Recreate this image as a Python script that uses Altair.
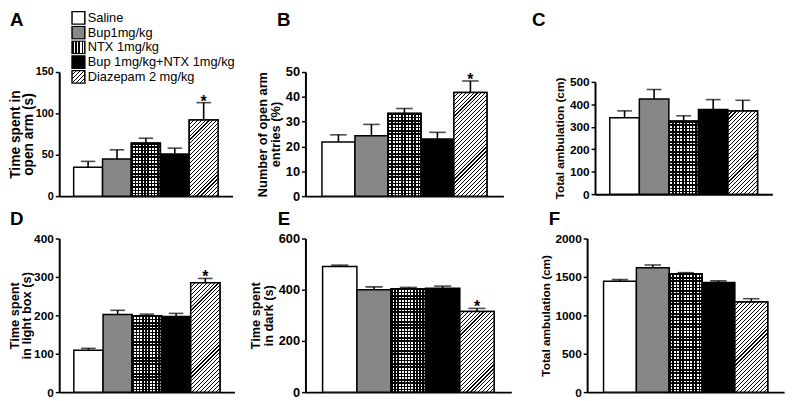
import altair as alt
import pandas as pd

FONT = "Liberation Sans"

# ---- data ----
cats = ["Saline", "Bup1mg/kg", "NTX 1mg/kg", "Bup 1mg/kg+NTX 1mg/kg", "Diazepam 2 mg/kg"]

a_mean = [35, 45, 64, 51, 92]
a_sem = [7, 11, 6, 7, 21]
a_star = ["", "", "", "", "*"]

b_mean = [21.8, 24.3, 33.3, 23.0, 41.8]
b_sem = [2.9, 4.6, 2.0, 2.7, 4.6]
b_star = ["", "", "", "", "*"]

c_mean = [340, 424, 325, 377, 370]
c_sem = [31, 42, 24, 44, 48]
c_star = ["", "", "", "", ""]

d_mean = [109, 202, 199, 197, 285]
d_sem = [5, 11, 4, 8, 11]
d_star = ["", "", "", "", "*"]

e_mean = [491, 400, 404, 406, 315]
e_sem = [5, 11, 5, 8, 12]
e_star = ["", "", "", "", "*"]

f_mean = [1443, 1620, 1542, 1426, 1173]
f_sem = [22, 35, 13, 22, 43]
f_star = ["", "", "", "", ""]

a_title = ["Time spent in", "open arm (s)"]
b_title = ["Number of open arm", "entries (%)"]
c_title = "Total ambulation (cm)"
d_title = ["Time spent", "in light box (s)"]
e_title = ["Time spent", "in dark (s)"]
f_title = "Total ambulation (cm)"


# ---- pattern helpers (styles) ----
def stripe_stops(total, period, lw, dark, light):
    stops = []
    k = 0
    while k * period < total - 1e-9:
        a = k * period / total
        b = min((k * period + lw) / total, 1.0)
        c = min((k + 1) * period / total, 1.0)
        stops += [(a, dark), (b, dark), (b, light), (c, light)]
        k += 1
    return stops


def grad(x2, y2, stops):
    return {"gradient": "linear", "x1": 0, "y1": 0, "x2": x2, "y2": y2,
            "stops": [{"offset": round(o, 5), "color": c} for o, c in stops]}


def grad_expr(g):
    st = ",".join("{offset:%s,color:'%s'}" % (s["offset"], s["color"]) for s in g["stops"])
    return "{gradient:'linear',x1:%s,y1:%s,x2:%s,y2:%s,stops:[%s]}" % (
        g["x1"], g["y1"], g["x2"], g["y2"], st)


legend_ntx = grad(1, 0, stripe_stops(13, 13 / 4, 1.7, "black", "white"))
legend_dz = grad(1, 1, stripe_stops(26, 4, 1.2, "black", "white"))

fill_scale = alt.Scale(domain=cats, range=["white", "#878787", {"expr": grad_expr(legend_ntx)},
                                           "black", {"expr": grad_expr(legend_dz)}])

legend_spec = alt.Legend(title=None, orient="none", legendX=12, legendY=-62, direction="vertical",
                         symbolType="square", symbolSize=169, symbolStrokeColor="black",
                         symbolStrokeWidth=1.5, labelFont=FONT, labelFontSize=13,
                         labelColor="black", labelOffset=2, labelLimit=300, rowPadding=1,
                         clipHeight=14, padding=0)


def panel(letter, mean, sem, star, ymax, ystep, title, W, xr, H, yr, tfs, lfs, tlh, tp,
          ldx, loff, yoff=0):
    n = len(cats)
    df = pd.DataFrame({"cat": cats, "mean": mean, "sem": sem, "star": star})
    df["top"] = df["mean"] + df["sem"]
    step = (xr[1] - xr[0]) / (n + 1)
    hr = yr[0] - yr[1]
    xs = alt.Scale(type="band", domain=cats, range=xr, paddingInner=0, paddingOuter=0.5)
    ys = alt.Scale(domain=[0, ymax], range=yr, nice=False, zero=True)
    yaxis = alt.Axis(values=list(range(0, ymax + 1, ystep)), title=title, grid=False,
                     format="d",
                     domainColor="black", domainWidth=2, tickColor="black", tickWidth=1.5,
                     tickSize=4, labelFont=FONT, labelFontSize=lfs, labelFontWeight="bold",
                     labelColor="black", labelPadding=2, labelFlush=False, labelOverlap=False,
                     titleFont=FONT, titleFontSize=tfs, titleFontWeight="bold",
                     titleColor="black", titlePadding=tp, titleLineHeight=tlh, offset=yoff)
    xaxis = alt.Axis(title=None, labels=False, ticks=False, domainColor="black",
                     domainWidth=2, grid=False)
    X = alt.X("cat:N", scale=xs, axis=xaxis, sort=cats)
    Ym = alt.Y("mean:Q", scale=ys, axis=yaxis)
    Yt = alt.Y("top:Q", scale=ys, axis=yaxis)
    base = alt.Chart(df)

    bars = base.mark_bar(stroke="black", strokeWidth=1.5).encode(
        x=X, y=Ym, fill=alt.Fill("cat:N", scale=fill_scale, legend=legend_spec))

    # NTX cross-hatch overlay
    h2 = mean[2] / ymax * hr
    pv = step / max(1, round(step / 3.3))
    ph = h2 / max(1, round(h2 / 3.3))
    vg = grad(1, 0, stripe_stops(step, pv, 0.47 * pv, "black", "white"))
    hg = grad(0, 1, stripe_stops(h2, ph, 0.47 * ph, "black", "rgba(0,0,0,0)"))
    ntx1 = base.transform_filter(alt.datum.cat == cats[2]).mark_bar(
        fill=vg, stroke="black", strokeWidth=1.5).encode(x=X, y=Ym)
    ntx2 = base.transform_filter(alt.datum.cat == cats[2]).mark_bar(
        fill=hg, stroke="black", strokeWidth=1.5).encode(x=X, y=Ym)

    # Diazepam diagonal hatch overlay
    h4 = mean[4] / ymax * hr
    w = step
    L = (w * w + h4 * h4) / (w + h4)
    dg = grad(w / L, h4 / L, stripe_stops(w + h4, 4, 1.1, "black", "white"))
    dz = base.transform_filter(alt.datum.cat == cats[4]).mark_bar(
        fill=dg, stroke="black", strokeWidth=1.5).encode(x=X, y=Ym)

    rule = base.mark_rule(color="black", strokeWidth=1.6).encode(x=X, y=Ym, y2="top:Q")
    cap = base.mark_tick(color="black", thickness=1.6, size=step * 0.5).encode(x=X, y=Yt)
    stars = base.transform_filter("datum.star != ''").mark_text(
        font=FONT, fontSize=16, fontWeight="bold", color="black", baseline="alphabetic",
        dy=4).encode(x=X, y=Yt, text="star:N")

    return alt.layer(bars, ntx1, ntx2, dz, rule, cap, stars).properties(
        width=W, height=H,
        title=alt.TitleParams(text=letter, anchor="start", frame="group", fontSize=19,
                              font=FONT, fontWeight="bold", color="black", dx=ldx,
                              offset=loff))


A = panel("A", a_mean, a_sem, a_star, 150, 50, a_title, 176, [0, 176], 126, [126, 0], 14, 11, 12.5, 0, -50, 37)
B = panel("B", b_mean, b_sem, b_star, 50, 10, b_title, 222, [0, 201], 126, [126, 0], 13, 13, 13, 3, -29, 37)
C = panel("C", c_mean, c_sem, c_star, 500, 100, c_title, 180, [0, 180], 124, [124, 10], 12, 12, 12, 3, -64, 43)
D = panel("D", d_mean, d_sem, d_star, 400, 100, d_title, 178, [0, 178], 156, [156, 0], 13, 12, 12.5, 0, -50, 4)
E = panel("E", e_mean, e_sem, e_star, 600, 200, e_title, 222, [0, 209], 156, [156, 0], 13, 13, 13, 3, -28, 4)
F = panel("F", f_mean, f_sem, f_star, 2000, 500, f_title, 192, [-8, 192], 156, [156, 0], 12, 12, 12, 3, -47, 4, yoff=8)

chart = alt.concat(A, B, C, D, E, F, columns=3, spacing={"row": 43, "column": 72},
                   bounds="flush", align="each").properties(
    padding={"left": 0, "top": 0, "right": 0, "bottom": 0}
).configure(font=FONT).configure_view(stroke=None)

chart.save("out.html", embed_options={"renderer": "svg", "actions": False})
